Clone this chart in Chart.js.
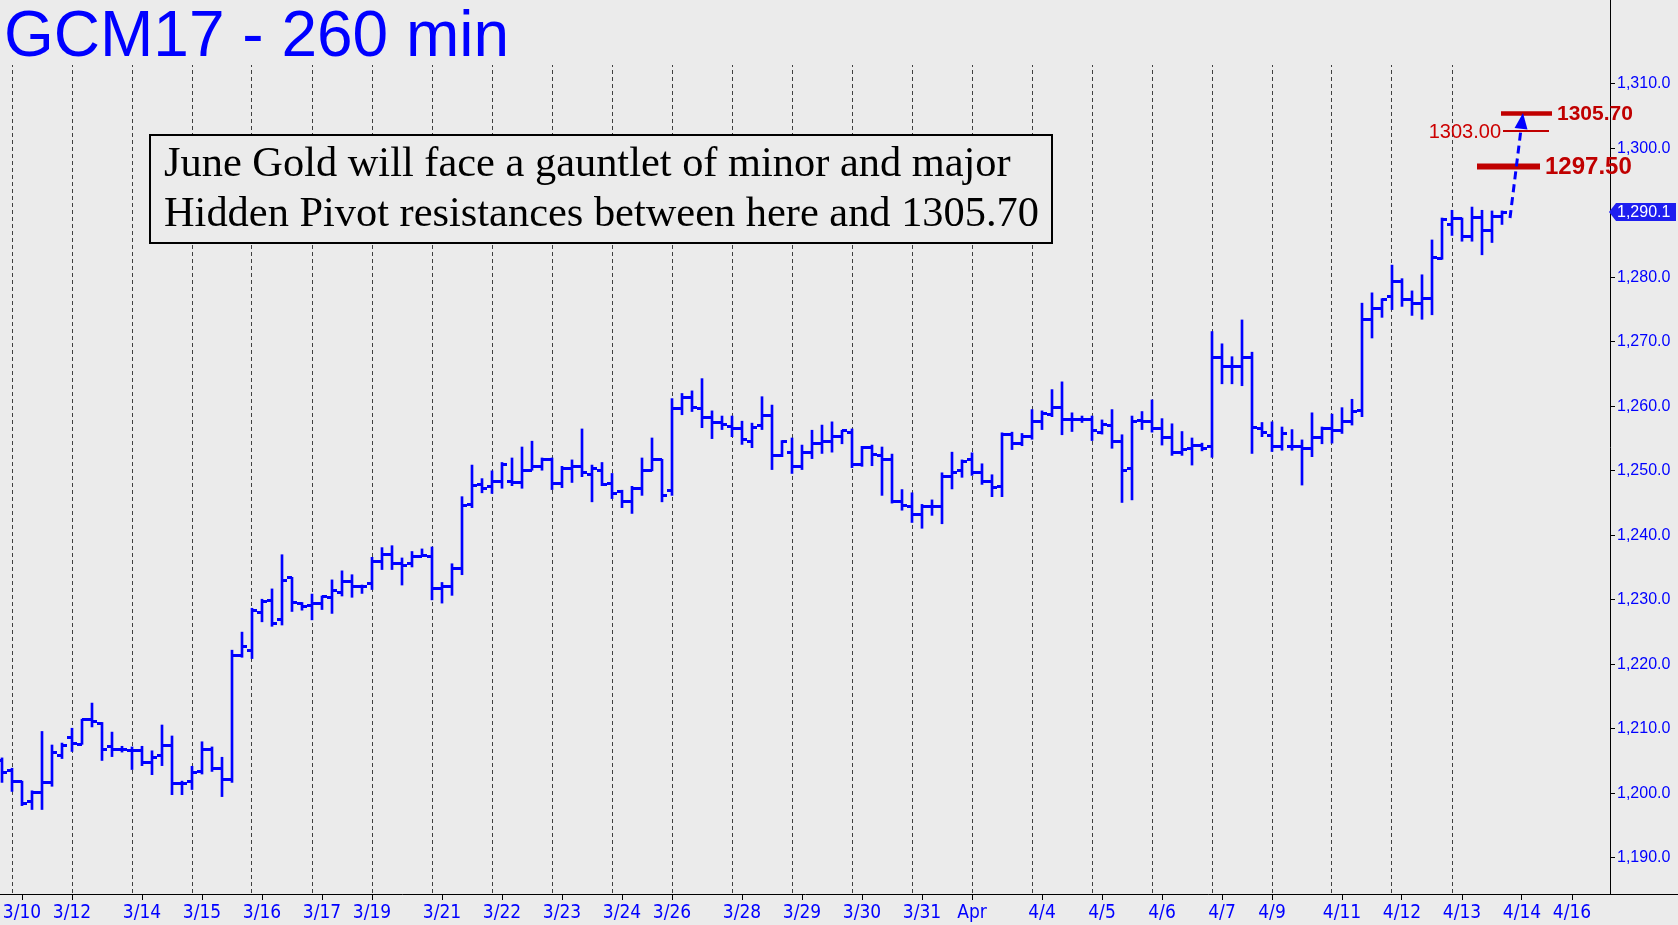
<!DOCTYPE html>
<html><head><meta charset="utf-8">
<script src="https://cdn.jsdelivr.net/npm/chart.js@4.4.0/dist/chart.umd.min.js"></script>
<style>html,body{margin:0;padding:0;background:#EBEBEB;overflow:hidden}canvas{display:block}</style>
</head><body>
<canvas id="c" width="1678" height="925"></canvas>
<script>
const titleText = 'GCM17 - 260 min';
const noteLines = ['June Gold will face a gauntlet of minor and major', 'Hidden Pivot resistances between here and 1305.70'];

const opens = [1205.1,1203.5,1201.8,1198.7,1200.2,1201.7,1205.9,1208.7,1207.6,1211.5,
1210.9,1207.3,1206.8,1206.6,1206.7,1204.8,1205.9,1207.5,1201.5,1201.9,
1203.4,1206.8,1203.9,1202.2,1221.3,1222.2,1228.1,1229.9,1226.9,1233.4,
1229.5,1229.2,1229.5,1230.3,1231.2,1232.9,1232.0,1232.5,1236.0,1237.1,
1235.7,1235.7,1236.8,1236.8,1231.7,1232.0,1234.8,1244.8,1247.9,1247.6,
1248.4,1248.4,1248.2,1250.1,1250.6,1251.7,1248.1,1250.4,1250.7,1249.5,
1250.1,1248.1,1246.8,1245.3,1247.2,1250.1,1251.8,1247.0,1259.7,1261.3,
1259.7,1258.3,1257.5,1256.9,1256.5,1254.6,1257.0,1258.6,1252.4,1252.9,
1250.7,1252.9,1254.3,1254.6,1255.4,1256.0,1251.0,1253.6,1252.4,1251.7,
1245.3,1244.5,1243.3,1244.5,1244.5,1249.2,1250.0,1251.8,1249.8,1248.4,
1247.5,1255.7,1254.3,1255.4,1257.7,1258.8,1259.9,1258.0,1257.9,1258.0,
1256.0,1257.1,1254.6,1250.3,1257.8,1257.6,1256.6,1255.1,1252.9,1253.4,
1254.0,1253.8,1267.5,1266.2,1266.2,1267.5,1256.6,1255.5,1253.8,1253.8,
1253.8,1253.5,1255.2,1256.6,1256.3,1257.6,1259.3,1273.4,1275.1,1277.1,
1279.3,1276.5,1275.9,1276.8,1282.9,1288.2,1289.2,1286.4,1289.3,1287.3,
1289.5];
const highs = [1205.5,1203.9,1201.9,1200.4,1209.6,1207.5,1207.8,1210.1,1211.5,1214.0,
1211.0,1209.5,1207.3,1207.2,1207.3,1206.6,1210.6,1208.9,1201.9,1204.2,
1208.0,1207.2,1205.6,1222.2,1225.0,1228.7,1230.1,1231.7,1237.0,1233.5,
1229.6,1230.9,1230.6,1233.1,1234.5,1233.9,1232.3,1236.6,1238.1,1238.4,
1236.5,1237.5,1237.9,1238.2,1232.7,1235.6,1246.0,1250.9,1248.8,1250.0,
1251.3,1252.0,1253.7,1254.6,1252.0,1252.0,1250.7,1251.7,1256.5,1250.9,
1251.3,1249.6,1247.0,1247.6,1252.0,1255.1,1251.8,1261.2,1262.0,1262.4,
1264.3,1259.3,1258.5,1258.5,1257.7,1257.4,1261.5,1260.2,1254.7,1255.1,
1254.0,1256.3,1257.1,1257.6,1256.3,1256.5,1253.8,1254.0,1253.7,1252.6,
1247.1,1246.6,1244.8,1245.5,1249.7,1252.9,1251.7,1252.8,1251.1,1249.4,
1255.9,1256.0,1255.8,1259.5,1259.3,1262.6,1263.8,1259.0,1258.5,1258.5,
1257.9,1259.5,1255.6,1258.5,1259.2,1261.0,1258.1,1257.3,1256.1,1255.1,
1254.3,1271.6,1269.7,1267.7,1273.4,1268.4,1257.5,1257.6,1256.8,1256.4,
1254.8,1259.0,1256.8,1258.8,1259.8,1261.1,1276.0,1277.6,1276.7,1281.9,
1279.8,1277.9,1280.4,1285.8,1289.2,1290.4,1289.2,1290.9,1290.4,1290.3,
1290.3];
const lows = [1201.7,1200.3,1198.1,1197.5,1197.5,1201.1,1205.4,1206.5,1207.6,1210.3,
1205.1,1205.7,1206.4,1203.7,1204.3,1202.9,1204.3,1199.8,1199.8,1200.6,
1203.0,1203.4,1199.5,1201.7,1221.1,1220.9,1226.6,1225.9,1226.1,1228.2,
1228.4,1226.9,1228.5,1227.9,1230.6,1230.4,1231.0,1231.6,1234.7,1234.7,
1232.3,1235.1,1236.7,1230.0,1229.5,1230.7,1233.9,1244.3,1246.6,1246.5,
1247.3,1247.7,1247.3,1250.1,1250.1,1247.1,1247.4,1248.2,1249.1,1245.2,
1247.7,1245.7,1244.3,1243.4,1246.2,1250.0,1245.2,1246.2,1258.7,1259.2,
1256.7,1255.0,1256.4,1255.3,1254.1,1253.6,1256.4,1250.2,1252.2,1249.6,
1250.2,1251.9,1252.7,1252.9,1254.2,1250.5,1250.7,1250.8,1246.2,1245.0,
1243.9,1242.0,1241.1,1243.1,1241.8,1247.2,1249.0,1249.3,1247.9,1246.0,
1246.0,1253.3,1253.9,1254.9,1256.4,1258.4,1255.6,1256.1,1257.5,1254.7,
1255.7,1253.5,1245.1,1245.5,1256.4,1256.0,1254.0,1252.4,1252.4,1250.9,
1253.1,1252.1,1263.5,1263.5,1263.2,1252.7,1255.3,1253.0,1253.2,1253.2,
1247.8,1252.2,1254.2,1254.3,1255.8,1257.1,1258.4,1270.6,1273.8,1275.0,
1275.5,1274.1,1273.5,1274.2,1282.8,1286.5,1285.6,1285.6,1283.5,1285.4,
1288.2];
const closes = [1203.3,1201.9,1198.5,1200.2,1201.7,1206.4,1207.5,1207.8,1211.4,1211.2,
1206.8,1206.8,1206.8,1206.6,1204.8,1205.6,1207.4,1201.6,1201.5,1203.3,
1206.8,1203.9,1202.2,1221.3,1222.7,1228.3,1229.7,1226.4,1233.0,1229.6,
1228.9,1229.5,1230.5,1231.4,1232.8,1232.1,1232.0,1236.0,1237.1,1235.7,
1235.4,1236.8,1236.9,1231.7,1232.0,1234.8,1244.7,1247.8,1247.3,1248.4,
1251.0,1248.2,1250.1,1250.6,1251.7,1248.1,1250.3,1250.7,1249.8,1250.3,
1247.9,1246.5,1245.3,1247.3,1250.1,1251.8,1246.2,1259.7,1261.3,1259.9,
1258.3,1257.5,1257.2,1256.6,1254.8,1256.8,1258.6,1252.4,1254.6,1250.6,
1252.9,1254.3,1254.6,1255.4,1256.2,1251.0,1253.6,1252.6,1251.7,1245.3,
1244.7,1243.3,1244.5,1244.5,1249.2,1249.8,1251.5,1249.8,1248.4,1247.4,
1255.6,1254.3,1255.3,1257.7,1258.9,1259.9,1258.0,1258.0,1257.9,1256.2,
1257.2,1254.6,1250.1,1257.7,1257.6,1256.6,1255.1,1252.9,1253.3,1254.0,
1253.5,1267.5,1266.2,1266.2,1267.5,1256.8,1256.0,1253.8,1255.8,1253.8,
1253.5,1255.2,1256.5,1256.3,1257.6,1259.2,1273.4,1275.1,1276.5,1279.3,
1276.5,1275.9,1276.8,1283.1,1288.9,1289.2,1286.4,1289.3,1287.3,1289.5,
1290.1];

const dateLabels = ['3/10','3/12','3/14','3/15','3/16','3/17','3/19','3/21','3/22','3/23','3/24','3/26','3/28','3/29',
'3/30','3/31','Apr','4/4','4/5','4/6','4/7','4/9','4/11','4/12','4/13','4/14','4/16'];
const dateIdx = [2,7,14,20,26,32,37,44,50,56,62,67,74,80,86,92,97,104,110,116,122,127,134,140,146,152,157];
const gridIdx = [1,7,13,19,25,31,37,43,49,55,61,67,73,79,85,91,97,103,109,115,121,127,133,139,145];
const yTicks = [1190,1200,1210,1220,1230,1240,1250,1260,1270,1280,1290,1300,1310];

const targetLevels = [1305.70, 1303.00, 1297.50];
const targetLabels = ['1305.70', '1303.00', '1297.50'];
const arrowFrom = [150.8, 1289.2];
const arrowTo = [152.1, 1305.5];

const BG = '#EBEBEB';
const BLUE = '#0000FF';
const RED = '#C00000';

function tickCanvas(side) {
  const cv = document.createElement('canvas');
  cv.width = 10; cv.height = 3;
  const g = cv.getContext('2d');
  g.fillStyle = BLUE;
  if (side === 'left') g.fillRect(0, 0, 5, 3); else g.fillRect(5, 0, 5, 3);
  return cv;
}
const openTick = tickCanvas('left');
const closeTick = tickCanvas('right');

const fmt = v => v.toLocaleString('en-US', {minimumFractionDigits: 1, maximumFractionDigits: 1});

const deco = {
  id: 'deco',
  beforeDraw(chart) {
    const c = chart.ctx;
    c.save(); c.fillStyle = BG; c.fillRect(0, 0, chart.width, chart.height); c.restore();
  },
  afterDraw(chart) {
    const c = chart.ctx, xs = chart.scales.x, ys = chart.scales.y, a = chart.chartArea;
    c.save();
    // title
    c.fillStyle = BG; c.fillRect(0, 0, a.right - 2, 65);
    c.fillStyle = BLUE; c.font = '64px "Liberation Sans", Arial, sans-serif';
    c.textBaseline = 'alphabetic'; c.textAlign = 'left';
    c.fillText(titleText, 4, 56);
    // axis extension
    c.strokeStyle = '#000'; c.lineWidth = 1;
    c.beginPath(); c.moveTo(a.right, Math.round(a.bottom) + 0.5); c.lineTo(chart.width, Math.round(a.bottom) + 0.5); c.stroke();
    // note box
    c.fillStyle = BG; c.fillRect(150, 135, 902, 108);
    c.strokeStyle = '#000'; c.lineWidth = 2; c.strokeRect(150, 135, 902, 108);
    c.fillStyle = '#000';
    c.font = '40px "Liberation Serif", "Times New Roman", serif';
    const w = c.measureText(noteLines[1]).width;
    const fs = 40 * 875 / w;
    c.font = fs.toFixed(2) + 'px "Liberation Serif", "Times New Roman", serif';
    c.fillText(noteLines[0], 164, 176);
    c.fillText(noteLines[1], 164, 226);
    // target levels
    const spans = [[149.9, 155.0], [150.1, 154.7], [147.5, 153.8]];
    const widths = [4.5, 2, 6];
    targetLevels.forEach((lv, k) => {
      const py = ys.getPixelForValue(lv) + 2;
      const x1 = xs.getPixelForValue(spans[k][0]), x2 = xs.getPixelForValue(spans[k][1]);
      c.strokeStyle = RED; c.lineWidth = widths[k];
      c.beginPath(); c.moveTo(x1, py); c.lineTo(x2, py); c.stroke();
      c.fillStyle = RED; c.textBaseline = 'middle';
      if (k === 1) {
        c.font = '20px "Liberation Sans", Arial, sans-serif'; c.textAlign = 'right';
        c.fillStyle = '#CC0000';
        c.fillText(targetLabels[k], x1 - 2, py + 1);
      } else {
        c.font = 'bold ' + (k === 0 ? 21 : 24) + 'px "Liberation Sans", Arial, sans-serif'; c.textAlign = 'left';
        c.fillText(targetLabels[k], x2 + 5, py + 1);
      }
    });
    // dashed arrow
    const ax0 = xs.getPixelForValue(arrowFrom[0]), ay0 = ys.getPixelForValue(arrowFrom[1]);
    const ax1 = xs.getPixelForValue(arrowTo[0]), ay1 = ys.getPixelForValue(arrowTo[1]);
    const ang = Math.atan2(ay1 - ay0, ax1 - ax0);
    const hl = 16, hw = 6.5;
    const bx = ax1 - hl * Math.cos(ang), by = ay1 - hl * Math.sin(ang);
    c.strokeStyle = BLUE; c.lineWidth = 3; c.setLineDash([8, 5]);
    c.beginPath(); c.moveTo(ax0, ay0); c.lineTo(bx, by); c.stroke();
    c.setLineDash([]);
    c.fillStyle = BLUE; c.beginPath();
    c.moveTo(ax1, ay1);
    c.lineTo(bx + hw * Math.sin(ang), by - hw * Math.cos(ang));
    c.lineTo(bx - hw * Math.sin(ang), by + hw * Math.cos(ang));
    c.closePath(); c.fill();
    // last price tag
    const last = closes[closes.length - 1];
    const ty = Math.round(ys.getPixelForValue(last));
    const tx = a.right;
    c.fillStyle = '#1E1EF0';
    c.beginPath(); c.moveTo(tx - 1, ty); c.lineTo(tx + 6, ty - 9); c.lineTo(tx + 66, ty - 9); c.lineTo(tx + 66, ty + 9); c.lineTo(tx + 6, ty + 9); c.closePath(); c.fill();
    c.fillStyle = '#FFFFFF'; c.font = '16px "Liberation Sans", Arial, sans-serif';
    c.textAlign = 'left'; c.textBaseline = 'middle';
    c.fillText(fmt(last), tx + 7, ty + 1);
    c.restore();
  }
};

const idx = closes.map((_, i) => i);
const labelMap = {};
dateIdx.forEach((v, k) => labelMap[v] = dateLabels[k]);

new Chart(document.getElementById('c'), {
  type: 'bar',
  data: {
    datasets: [
      { type: 'bar', data: idx.map(i => ({x: i, y: [lows[i], highs[i]]})), backgroundColor: BLUE, borderWidth: 0, barThickness: 2, xAxisID: 'x', yAxisID: 'y' },
      { type: 'scatter', data: idx.map(i => ({x: i, y: opens[i]})), pointStyle: openTick, pointRadius: 3, xAxisID: 'x', yAxisID: 'y' },
      { type: 'scatter', data: idx.map(i => ({x: i, y: closes[i]})), pointStyle: closeTick, pointRadius: 3, xAxisID: 'x', yAxisID: 'y' }
    ]
  },
  options: {
    responsive: false, animation: false, events: [],
    layout: { padding: 0, autoPadding: false },
    plugins: { legend: { display: false }, tooltip: { enabled: false } },
    scales: {
      x: {
        type: 'linear', position: 'bottom', min: -0.2, max: 160.8, offset: false,
        afterBuildTicks: s => { s.ticks = dateIdx.map(v => ({value: v})); },
        afterFit: s => { s.height = 31; s.paddingLeft = 0; s.paddingRight = 0; },
        ticks: { autoSkip: false, maxRotation: 0, color: BLUE, padding: 2,
          font: { family: '"Liberation Sans Narrow", "DejaVu Sans Condensed", Arial, sans-serif', size: 19 },
          callback: v => labelMap[v] || '' },
        grid: { drawOnChartArea: false, drawTicks: true, tickLength: 6, color: '#000', offset: false },
        border: { display: true, color: '#000', width: 1 }
      },
      xg: {
        type: 'linear', position: 'top', min: -0.2, max: 160.8, offset: false,
        afterBuildTicks: s => { s.ticks = gridIdx.map(v => ({value: v})); },
        afterFit: s => { s.height = 0; s.paddingLeft = 0; s.paddingRight = 0; },
        ticks: { display: false },
        grid: { drawOnChartArea: true, drawTicks: false, color: '#404040', lineWidth: 1, offset: false },
        border: { display: false, dash: [4, 3] }
      },
      y: {
        type: 'linear', position: 'right', min: 1184.4, max: 1323.0, beginAtZero: false,
        afterBuildTicks: s => { s.ticks = yTicks.map(v => ({value: v})); },
        afterFit: s => { s.width = 68; s.paddingTop = 0; s.paddingBottom = 0; },
        ticks: { color: BLUE, padding: 2, font: { family: '"Liberation Sans", Arial, sans-serif', size: 16 },
          callback: v => fmt(v) },
        grid: { drawOnChartArea: false, drawTicks: true, tickLength: 5, color: '#000' },
        border: { display: true, color: '#000', width: 1 }
      }
    }
  },
  plugins: [deco]
});
</script>
</body></html>
